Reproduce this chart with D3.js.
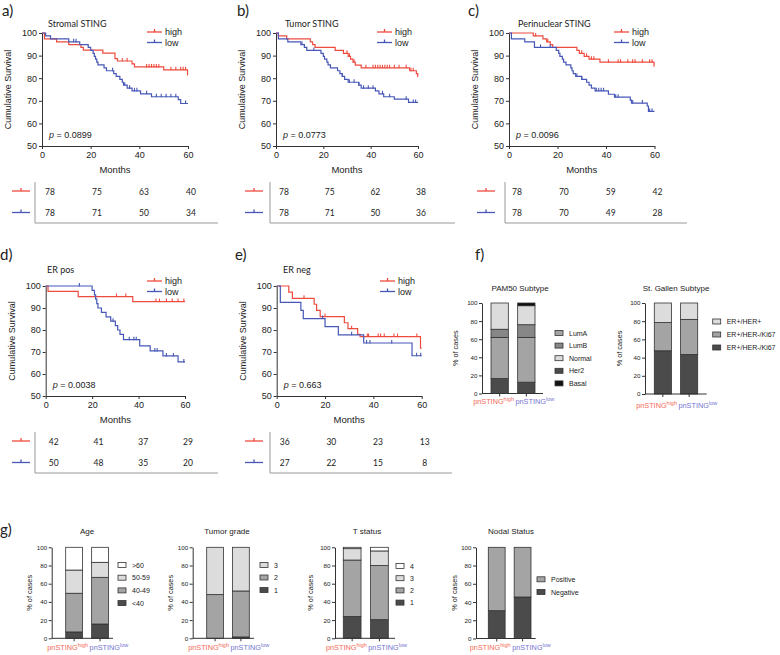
<!DOCTYPE html>
<html>
<head>
<meta charset="utf-8">
<script src="https://cdn.jsdelivr.net/npm/d3@7"></script>
<style>
body { margin: 0; background: #fff; }
text { font-family: "Liberation Sans", Arial, sans-serif; fill: #222; }
.cal { font-family: Lato, "Open Sans", sans-serif; }
</style>
</head>
<body>
<svg id="fig" width="780" height="655"></svg>
<script>
// ---------- data ----------
var riskMonths = [0, 20, 40, 60];
var groups = ["high", "low"];

// survival curves: [month, survival %] at each drop, plus censor times (months)
var stromalHigh = [[1,97.4],[6,96.1],[11,94.9],[16,93.6],[17,92.4],[25,91.1],[30,88.7],[31,87.6],[37,86.3],[38,85.0],[50,83.7],[59.8,81.5]];
var stromalHighCens = [33,35,43,44,45,46,47,48,53,55,57,58,59];
var stromalLow = [[1.5,98.7],[3.5,97.4],[11,96.1],[15.5,94.9],[19,93.6],[20,92.3],[21,91.0],[21.5,89.7],[22,88.4],[22.5,87.1],[23,85.9],[25.5,84.6],[26.5,83.3],[29.5,82.0],[30.5,80.8],[32,79.5],[33,78.2],[33.5,76.9],[35,75.6],[37,74.4],[40.5,73.1],[45,71.8],[56,70.5],[57,68.8]];
var stromalLowCens = [13,14,29,34,36,38,39,43,47,49,51,53,55,59];
var stromalRiskHigh = [78, 75, 63, 40];
var stromalRiskLow = [78, 71, 50, 34];

var tumorHigh = [[1,98.7],[4.5,97.4],[14.5,96.1],[15.5,94.9],[16.5,93.6],[25,92.3],[28.5,91.0],[30.5,89.7],[31.5,88.4],[32.5,87.1],[33.5,85.8],[36,84.6],[56.5,83.3],[59.3,82.0],[59.9,80.7]];
var tumorHighCens = [30,31,33,38,41,42,43,44,45,46,47,48,50,52,55,57,58];
var tumorLow = [[1,97.4],[5,96.1],[10.5,94.9],[12,93.6],[13,92.3],[19,91.0],[20,89.7],[20.5,88.4],[21.5,87.1],[22,85.9],[23,84.6],[26,83.3],[27,82.0],[28,80.8],[29,79.5],[30.5,78.2],[35,76.9],[36,75.6],[42,74.4],[43.5,73.1],[45.5,71.8],[50,70.7],[56,69.3]];
var tumorLowCens = [11,16,28,31,33,35,37,39,41,45,48,55,58,59];
var tumorRiskHigh = [78, 75, 62, 38];
var tumorRiskLow = [78, 71, 50, 36];

var periHigh = [[10,98.7],[14,97.4],[15.5,96.1],[17,94.9],[18,93.6],[28,92.3],[29,91.0],[31,89.7],[33,88.4],[37.5,87.1],[59.8,85.3]];
var periHighCens = [11,16,30,32,34,35,41,45,46,49,51,52,55,58,59];
var periLow = [[1,97.4],[6.5,96.1],[10.5,93.6],[19.5,92.3],[20.5,91.0],[21,89.7],[22,88.4],[22.5,87.1],[23.5,85.9],[25.5,84.6],[26,83.3],[26.5,82.0],[27.5,80.8],[30,79.5],[32,78.2],[33,76.9],[34,75.6],[35.5,74.4],[41,72.9],[43.5,71.6],[50,70.3],[50.5,69.0],[57,67.7],[57.5,65.3]];
var periLowCens = [13,17,28,30,36,37,38,39,44,45,51,55,58,59];
var periRiskHigh = [78, 70, 59, 42];
var periRiskLow = [78, 70, 49, 28];

var erPosHigh = [[1,97.6],[14,95.2],[37.5,92.9]];
var erPosHighCens = [30.5,34.5,47.5,49,52,54.5,57,59.5];
var erPosLow = [[20,98],[21,96],[21.5,94],[22,92],[22.5,90],[24,88],[26,86],[28,84],[30,82],[31,80],[32,78],[33.5,75.6],[40.5,72.8],[45,70.5],[50.5,68.2],[57,65.5]];
var erPosLowCens = [14.5,29,36,38,39,47,48,52,55,59.5];
var erPosRiskHigh = [42, 41, 37, 29];
var erPosRiskLow = [50, 48, 35, 20];

var erNegHigh = [[5,97.2],[6.5,94.4],[15.5,91.7],[16.5,88.9],[18,86.1],[28,83.3],[29.5,80.6],[33.5,78.0],[34.5,77.0],[59.5,71.8]];
var erNegHighCens = [11.3,20,31,37.5,38,42,43,44.5,48.5,50,58];
var erNegLow = [[1.5,92.6],[10,88.9],[11,85.2],[20,81.5],[25.5,77.8],[36,74.1],[56,68.3]];
var erNegLowCens = [19,31,37.2,38.6,47.6,57.9,59.6];
var erNegRiskHigh = [36, 30, 23, 13];
var erNegRiskLow = [27, 22, 15, 8];

// stacked bars: % of cases per segment, bottom to top, for [high, low]
var pam50Keys = ["Her2", "LumA", "LumB", "Normal", "Basal"];
var pam50Legend = ["LumA", "LumB", "Normal", "Her2", "Basal"];
var pam50Values = [[16.5, 45.5, 9, 29, 0], [12.5, 49.5, 14, 21, 3]];

var gallenKeys = ["ER+/HER-/Ki67 ", "ER+/HER-/Ki67", "ER+/HER+"];
var gallenLegend = ["ER+/HER+", "ER+/HER-/Ki67", "ER+/HER-/Ki67 "];
var gallenValues = [[47.5, 31, 21.5], [43.5, 38.5, 18]];

var ageKeys = ["<40", "40-49", "50-59", ">60"];
var ageValues = [[7, 42.5, 25.5, 25], [15.7, 51.3, 16.5, 16.5]];

var gradeKeys = ["1", "2", "3"];
var gradeValues = [[0, 48, 52], [1.5, 50.5, 48]];

var tKeys = ["1", "2", "3", "4"];
var tValues = [[24, 62, 12.5, 1.5], [20.5, 59.5, 16, 4]];

var nodalKeys = ["Negative", "Positive"];
var nodalValues = [[30.5, 69.5], [45.5, 54.5]];

var yTicks = [0, 20, 40, 60, 80, 100];
var kmTicks = [50, 60, 70, 80, 90, 100];

// ---------- drawing ----------
var svg = d3.select("#fig");
var red = "#ee4b3f", blue = "#4757b7";
var labRed = "#f56a58", labBlue = "#7474d2";
var dark = "#4b4b4b", mid = "#a4a4a4", midDark = "#878787", light = "#dcdcdc";

svg.append("rect").attr("width", 780).attr("height", 655).attr("fill", "#fff");

function survAt(steps, t) {
  var s = 100;
  steps.forEach(function(d) { if (d[0] <= t) s = d[1]; });
  return s;
}

function marker(g, x0, len, y, color) {
  g.append("line").attr("x1", x0).attr("x2", x0 + len).attr("y1", y).attr("y2", y)
    .attr("stroke", color).attr("stroke-width", 1.3);
  g.append("line").attr("x1", x0 + len / 2).attr("x2", x0 + len / 2).attr("y1", y - 3).attr("y2", y)
    .attr("stroke", color).attr("stroke-width", 1.3);
}

function styleAxis(a, size) {
  a.attr("font-family", "Liberation Sans, Arial, sans-serif").attr("font-size", size);
  a.select(".domain").attr("stroke", "#333");
  a.selectAll(".tick line").attr("stroke", "#333");
  a.selectAll(".tick text").attr("fill", "#222");
}

var kmPanels = [
  {id: "a", title: "Stromal STING", high: stromalHigh, highCens: stromalHighCens, low: stromalLow, lowCens: stromalLowCens,
   riskHigh: stromalRiskHigh, riskLow: stromalRiskLow, p: "0.0899",
   xr: [42, 188], yr: [146, 33], lab: [2, 16], tl: [48, 26.5], leg: [147, 32], tab: {mx: 12, vx: 35, hx: 218, y: 191}},
  {id: "b", title: "Tumor STING", high: tumorHigh, highCens: tumorHighCens, low: tumorLow, lowCens: tumorLowCens,
   riskHigh: tumorRiskHigh, riskLow: tumorRiskLow, p: "0.0773",
   xr: [276, 418], yr: [146, 33], lab: [237, 16], tl: [285, 26.5], leg: [377, 32], tab: {mx: 245, vx: 270, hx: 455, y: 191}},
  {id: "c", title: "Perinuclear STING", high: periHigh, highCens: periHighCens, low: periLow, lowCens: periLowCens,
   riskHigh: periRiskHigh, riskLow: periRiskLow, p: "0.0096",
   xr: [509, 654.5], yr: [146, 33], lab: [468, 16], tl: [518, 26.5], leg: [614, 32], tab: {mx: 477, vx: 505, hx: 687, y: 191}},
  {id: "d", title: "ER pos", high: erPosHigh, highCens: erPosHighCens, low: erPosLow, lowCens: erPosLowCens,
   riskHigh: erPosRiskHigh, riskLow: erPosRiskLow, p: "0.0038",
   xr: [45.7, 185], yr: [396, 286], lab: [0, 260], tl: [47, 272.5], leg: [147, 281], tab: {mx: 12, vx: 35, hx: 218, y: 441}},
  {id: "e", title: "ER neg", high: erNegHigh, highCens: erNegHighCens, low: erNegLow, lowCens: erNegLowCens,
   riskHigh: erNegRiskHigh, riskLow: erNegRiskLow, p: "0.663",
   xr: [276.7, 421.7], yr: [396, 286], lab: [235, 260], tl: [283, 272.5], leg: [380, 281], tab: {mx: 245, vx: 270, hx: 452, y: 441}}
];

kmPanels.forEach(function(p) {
  var g = svg.append("g");
  var x = d3.scaleLinear().domain([0, 60]).range(p.xr);
  var y = d3.scaleLinear().domain([50, 100]).range(p.yr);

  g.append("text").attr("class", "cal").attr("x", p.lab[0]).attr("y", p.lab[1])
    .style("font-size", "15px").text(p.id + ")");
  g.append("text").attr("class", "cal").attr("x", p.tl[0]).attr("y", p.tl[1])
    .style("font-size", "9px").text(p.title);

  var ya = g.append("g").attr("transform", "translate(" + p.xr[0] + ",0)")
    .call(d3.axisLeft(y).tickValues(kmTicks).tickSize(3).tickSizeOuter(0).tickPadding(2));
  var xa = g.append("g").attr("transform", "translate(0," + p.yr[0] + ")")
    .call(d3.axisBottom(x).tickValues(riskMonths).tickSize(3).tickSizeOuter(0).tickPadding(3));
  styleAxis(ya, 9);
  styleAxis(xa, 9);

  g.append("text").attr("transform", "translate(" + (p.xr[0] - 31) + "," + ((p.yr[0] + p.yr[1]) / 2) + ") rotate(-90)")
    .attr("text-anchor", "middle").style("font-size", "9px").text("Cumulative Survival");
  g.append("text").attr("x", (p.xr[0] + p.xr[1]) / 2).attr("y", p.yr[0] + 27)
    .attr("text-anchor", "middle").style("font-size", "9.5px").text("Months");

  var pt = g.append("text").attr("x", p.xr[0] + 7).attr("y", p.yr[0] - 8).style("font-size", "9px");
  pt.append("tspan").style("font-style", "italic").text("p");
  pt.append("tspan").text(" = " + p.p);

  var line = d3.line().x(function(d) { return x(d[0]); }).y(function(d) { return y(d[1]); }).curve(d3.curveStepAfter);
  [{s: p.high, c: p.highCens, col: red}, {s: p.low, c: p.lowCens, col: blue}].forEach(function(ser) {
    var last = ser.s[ser.s.length - 1][1];
    var pts = [[0, 100]].concat(ser.s, [[60, last]]);
    g.append("path").datum(pts).attr("d", line).attr("fill", "none")
      .attr("stroke", ser.col).attr("stroke-width", 1.2);
    g.selectAll(null).data(ser.c).enter().append("line")
      .attr("x1", function(t) { return x(t); }).attr("x2", function(t) { return x(t); })
      .attr("y1", function(t) { return y(survAt(ser.s, t)) - 3; })
      .attr("y2", function(t) { return y(survAt(ser.s, t)) + 0.5; })
      .attr("stroke", ser.col).attr("stroke-width", 1.1);
  });

  // legend
  [["high", red], ["low", blue]].forEach(function(l, i) {
    var ly = p.leg[1] + i * 10.5;
    marker(g, p.leg[0], 15, ly, l[1]);
    g.append("text").attr("x", p.leg[0] + 18).attr("y", ly + 3.3).style("font-size", "9px").text(l[0]);
  });

  // number at risk table
  var tx = d3.scaleLinear().domain([0, 60]).range([p.xr[0] + 8, p.xr[1] + 3]);
  [[p.riskHigh, red], [p.riskLow, blue]].forEach(function(r, i) {
    var ry = p.tab.y + i * 21.5;
    marker(g, p.tab.mx, 18, ry, r[1]);
    g.selectAll(null).data(r[0]).enter().append("text").attr("class", "cal")
      .attr("x", function(d, j) { return tx(riskMonths[j]); }).attr("y", ry + 3.5)
      .attr("text-anchor", "middle").style("font-size", "8.5px").text(function(d) { return d; });
  });
  g.append("line").attr("x1", p.tab.vx).attr("x2", p.tab.vx).attr("y1", p.tab.y - 9).attr("y2", p.tab.y + 32)
    .attr("stroke", "#999").attr("stroke-width", 1);
  g.append("line").attr("x1", p.tab.vx).attr("x2", p.tab.hx).attr("y1", p.tab.y + 32).attr("y2", p.tab.y + 32)
    .attr("stroke", "#999").attr("stroke-width", 1);
});

// ---------- stacked bar charts ----------
var barCharts = [
  {title: "PAM50 Subtype", keys: pam50Keys, legend: pam50Legend, values: pam50Values,
   colors: [dark, mid, midDark, light, "#111"], ax: 482, band: [491, 535], axEnd: 543, yr: [393.5, 303],
   tl: [520, 290.5], leg: [555, 333, 12.6], ylab: 458, xl: 404},
  {title: "St. Gallen Subtype", keys: gallenKeys, legend: gallenLegend, values: gallenValues,
   colors: [dark, mid, light], ax: 645, band: [654.3, 697.7], axEnd: 706.7, yr: [394, 303],
   tl: [676, 290.5], leg: [712.7, 321.5, 13], ylab: 621.7, xl: 408},
  {title: "Age", keys: ageKeys, legend: ageKeys.slice().reverse(), values: ageValues,
   colors: [dark, mid, light, "#fff"], ax: 51.7, band: [65.7, 108.5], axEnd: 113, yr: [638.3, 547.3],
   tl: [87, 534], leg: [118, 565, 12.7], ylab: 31.7, xl: 650},
  {title: "Tumor grade", keys: gradeKeys, legend: gradeKeys.slice().reverse(), values: gradeValues,
   colors: [dark, mid, light], ax: 192.7, band: [206.7, 249.3], axEnd: 254, yr: [638.3, 547.3],
   tl: [227, 534], leg: [260, 565, 12.5], ylab: 173, xl: 650},
  {title: "T status", keys: tKeys, legend: tKeys.slice().reverse(), values: tValues,
   colors: [dark, mid, light, "#fff"], ax: 335, band: [343.3, 388.3], axEnd: 395, yr: [638.3, 547.3],
   tl: [367, 534], leg: [396, 566, 12.2], ylab: 313, xl: 650},
  {title: "Nodal Status", keys: nodalKeys, legend: nodalKeys.slice().reverse(), values: nodalValues,
   colors: [dark, mid], ax: 476, band: [488.3, 531], axEnd: 535.7, yr: [638.5, 547.3],
   tl: [511, 534], leg: [537, 579.3, 12.7], ylab: 456.7, xl: 650}
];

barCharts.forEach(function(c) {
  var g = svg.append("g");
  var y = d3.scaleLinear().domain([0, 100]).range(c.yr);
  var xb = d3.scaleBand().domain(groups).range(c.band).paddingInner(0.35);
  var color = d3.scaleOrdinal().domain(c.keys).range(c.colors);

  var rows = groups.map(function(gr, i) {
    var o = {group: gr};
    c.keys.forEach(function(k, j) { o[k] = c.values[i][j]; });
    return o;
  });
  var stacked = d3.stack().keys(c.keys)(rows);

  g.append("text").attr("x", c.tl[0]).attr("y", c.tl[1]).attr("text-anchor", "middle")
    .style("font-size", "8px").text(c.title);

  g.selectAll(".layer").data(stacked).enter().append("g")
    .attr("fill", function(d) { return color(d.key); })
    .selectAll("rect").data(function(d) { return d.filter(function(s) { return s[1] - s[0] > 0; }); })
    .enter().append("rect")
      .attr("x", function(d) { return xb(d.data.group); })
      .attr("y", function(d) { return y(d[1]); })
      .attr("width", xb.bandwidth())
      .attr("height", function(d) { return y(d[0]) - y(d[1]); })
      .attr("stroke", "#333").attr("stroke-width", 0.8);

  var ya = g.append("g").attr("transform", "translate(" + c.ax + ",0)")
    .call(d3.axisLeft(y).tickValues(yTicks).tickSize(3).tickSizeOuter(0).tickPadding(1.5));
  styleAxis(ya, 6.2);

  var xa = g.append("g").attr("transform", "translate(0," + c.yr[0] + ")")
    .call(d3.axisBottom(xb).tickSize(3).tickSizeOuter(0).tickFormat(""));
  xa.select(".domain").remove();
  xa.append("line").attr("x1", c.ax).attr("x2", c.axEnd).attr("stroke", "#333");
  xa.selectAll(".tick line").attr("stroke", "#333");

  g.append("text").attr("transform", "translate(" + c.ylab + "," + ((c.yr[0] + c.yr[1]) / 2) + ") rotate(-90)")
    .attr("text-anchor", "middle").style("font-size", "7.3px").text("% of cases");

  // group labels with superscripts
  var midX = (xb("high") + xb.bandwidth() + xb("low")) / 2;
  [["high", labRed, "end", midX + 1], ["low", labBlue, "start", midX + 2.5]].forEach(function(l) {
    var t = g.append("text").attr("x", l[3]).attr("y", c.xl).attr("text-anchor", l[2])
      .style("font-size", "7.3px").style("fill", l[1]);
    t.append("tspan").text("pnSTING");
    t.append("tspan").attr("dy", -3).style("font-size", "5.5px").text(l[0]);
  });

  // legend
  c.legend.forEach(function(k, i) {
    var ly = c.leg[1] + i * c.leg[2];
    g.append("rect").attr("x", c.leg[0]).attr("y", ly - 2.5).attr("width", 8).attr("height", 5)
      .attr("fill", color(k)).attr("stroke", "#333").attr("stroke-width", 0.8);
    g.append("text").attr("x", c.leg[0] + 14).attr("y", ly + 2.6).style("font-size", "7px").text(k);
  });
});

svg.append("text").attr("class", "cal").attr("x", 475).attr("y", 260).style("font-size", "15px").text("f)");
svg.append("text").attr("class", "cal").attr("x", 0).attr("y", 535).style("font-size", "15px").text("g)");
</script>
</body>
</html>
